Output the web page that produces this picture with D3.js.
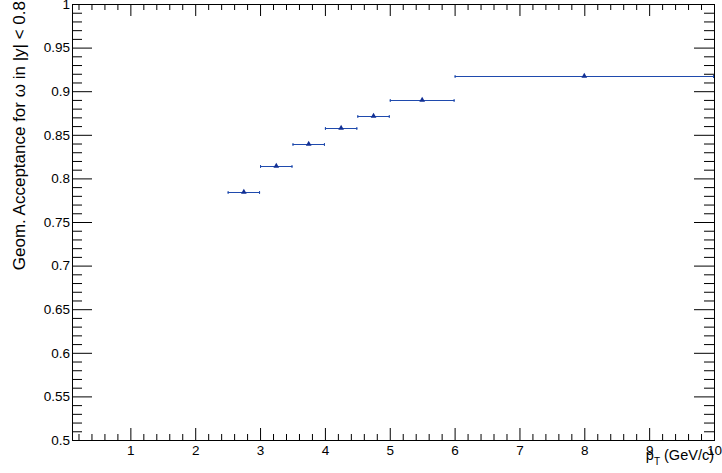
<!DOCTYPE html>
<html>
<head>
<meta charset="utf-8">
<script src="https://cdn.jsdelivr.net/npm/d3@7"></script>
<style>
  html, body { margin: 0; padding: 0; background: #fff; }
  svg { display: block; }
  text { font-family: "Liberation Sans", Arial, Helvetica, sans-serif; fill: #000; }
</style>
</head>
<body>
<svg id="chart" width="722" height="473"></svg>
<script>
// pT bins (GeV/c) and geometric acceptance of omega in |y| < 0.8
const binLow     = [2.5, 3.0, 3.5, 4.0, 4.5, 5.0, 6.0];
const binHigh    = [3.0, 3.5, 4.0, 4.5, 5.0, 6.0, 10.0];
const binCenter  = [2.75, 3.25, 3.75, 4.25, 4.75, 5.5, 8.0];
const acceptance = [0.784, 0.814, 0.839, 0.858, 0.872, 0.890, 0.918];

// axis ranges and tick labels
const xRange = [0.1, 10];
const yRange = [0.5, 1.0];
const xMajorTicks = [1, 2, 3, 4, 5, 6, 7, 8, 9, 10];
const yMajorTicks = [0.5, 0.55, 0.6, 0.65, 0.7, 0.75, 0.8, 0.85, 0.9, 0.95, 1];
const xTitle = "p";
const xTitleSub = "T";
const xTitleUnit = " (GeV/c)";
const yTitle = "Geom. Acceptance for ω in |y| < 0.8";

const frame = { left: 72, right: 714, top: 4, bottom: 440 };
const svg = d3.select("#chart");

svg.append("rect").attr("width", 722).attr("height", 473).attr("fill", "#fff");

const x = d3.scaleLinear().domain(xRange).range([frame.left, frame.right]);
const y = d3.scaleLinear().domain(yRange).range([frame.bottom, frame.top]);

// minor tick positions
const xMinor = d3.range(0.2, 10.001, 0.2).map(v => +v.toFixed(2))
  .filter(v => v >= xRange[0] && !xMajorTicks.some(m => Math.abs(m - v) < 1e-6));
const yMinor = d3.range(0.5, 1.0001, 0.01).map(v => +v.toFixed(2))
  .filter(v => !yMajorTicks.some(m => Math.abs(m - v) < 1e-6));

const fmtY = d => (+d.toFixed(2)).toString();

function styleAxis(g) {
  g.select(".domain").remove();
  g.selectAll(".tick line").attr("stroke", "#000").attr("stroke-width", 1);
  g.selectAll(".tick text").style("font-size", "13.5px")
    .style("font-family", "'Liberation Sans', Arial, sans-serif");
}

// bottom axis: labelled major ticks pointing up into the frame
svg.append("g").attr("transform", `translate(0,${frame.bottom})`)
  .call(d3.axisBottom(x).tickValues(xMajorTicks).tickSizeInner(-12).tickSizeOuter(0)
    .tickPadding(5).tickFormat(d3.format("d")))
  .call(styleAxis);
svg.append("g").attr("transform", `translate(0,${frame.bottom})`)
  .call(d3.axisBottom(x).tickValues(xMinor).tickSizeInner(-6).tickSizeOuter(0).tickFormat(""))
  .call(styleAxis);

// top axis: mirrored ticks, no labels
svg.append("g").attr("transform", `translate(0,${frame.top})`)
  .call(d3.axisTop(x).tickValues(xMajorTicks).tickSizeInner(-12).tickSizeOuter(0).tickFormat(""))
  .call(styleAxis);
svg.append("g").attr("transform", `translate(0,${frame.top})`)
  .call(d3.axisTop(x).tickValues(xMinor).tickSizeInner(-6).tickSizeOuter(0).tickFormat(""))
  .call(styleAxis);

// left axis: labelled major ticks pointing right into the frame
svg.append("g").attr("transform", `translate(${frame.left},0)`)
  .call(d3.axisLeft(y).tickValues(yMajorTicks).tickSizeInner(-20).tickSizeOuter(0)
    .tickPadding(2).tickFormat(fmtY))
  .call(styleAxis);
svg.append("g").attr("transform", `translate(${frame.left},0)`)
  .call(d3.axisLeft(y).tickValues(yMinor).tickSizeInner(-10).tickSizeOuter(0).tickFormat(""))
  .call(styleAxis);

// right axis: mirrored ticks, no labels
svg.append("g").attr("transform", `translate(${frame.right},0)`)
  .call(d3.axisRight(y).tickValues(yMajorTicks).tickSizeInner(-20).tickSizeOuter(0).tickFormat(""))
  .call(styleAxis);
svg.append("g").attr("transform", `translate(${frame.right},0)`)
  .call(d3.axisRight(y).tickValues(yMinor).tickSizeInner(-10).tickSizeOuter(0).tickFormat(""))
  .call(styleAxis);

// frame
svg.append("rect")
  .attr("x", frame.left + 0.5).attr("y", frame.top + 0.5)
  .attr("width", frame.right - frame.left).attr("height", frame.bottom - frame.top)
  .attr("fill", "none").attr("stroke", "#000").attr("stroke-width", 1);

// data: horizontal bin-width bars with end caps and a triangle marker
const lineColor = "#1f4aad";
const markerColor = "#112f94";
const pts = binCenter.map((c, i) => ({ c, lo: binLow[i], hi: binHigh[i], v: acceptance[i] }));
const snap = v => Math.round(v) + 0.5;

const dataG = svg.append("g");
dataG.selectAll("line.bar").data(pts).enter().append("line")
  .attr("class", "bar")
  .attr("x1", d => x(d.lo)).attr("x2", d => x(d.hi))
  .attr("y1", d => snap(y(d.v))).attr("y2", d => snap(y(d.v)))
  .attr("stroke", lineColor).attr("stroke-width", 1.2);
dataG.selectAll("line.capL").data(pts).enter().append("line")
  .attr("class", "capL")
  .attr("x1", d => x(d.lo) + 0.5).attr("x2", d => x(d.lo) + 0.5)
  .attr("y1", d => snap(y(d.v)) - 1.5).attr("y2", d => snap(y(d.v)) + 1.5)
  .attr("stroke", lineColor).attr("stroke-width", 1);
dataG.selectAll("line.capR").data(pts).enter().append("line")
  .attr("class", "capR")
  .attr("x1", d => x(d.hi) - 0.5).attr("x2", d => x(d.hi) - 0.5)
  .attr("y1", d => snap(y(d.v)) - 1.5).attr("y2", d => snap(y(d.v)) + 1.5)
  .attr("stroke", lineColor).attr("stroke-width", 1);
dataG.selectAll("path.marker").data(pts).enter().append("path")
  .attr("class", "marker")
  .attr("d", d3.symbol().type(d3.symbolTriangle).size(14))
  .attr("transform", d => `translate(${x(d.c)},${snap(y(d.v)) - 0.5})`)
  .attr("fill", markerColor);

// axis titles
const xt = svg.append("text")
  .attr("x", frame.right).attr("y", 460)
  .attr("text-anchor", "end")
  .style("font-size", "14.5px");
xt.append("tspan").text(xTitle);
xt.append("tspan").attr("dy", 5).style("font-size", "10px").text(xTitleSub);
xt.append("tspan").attr("dy", -5).text(xTitleUnit);

svg.append("text")
  .attr("transform", `translate(25,1) rotate(-90)`)
  .attr("text-anchor", "end")
  .style("font-size", "17px")
  .text(yTitle);
</script>
</body>
</html>
